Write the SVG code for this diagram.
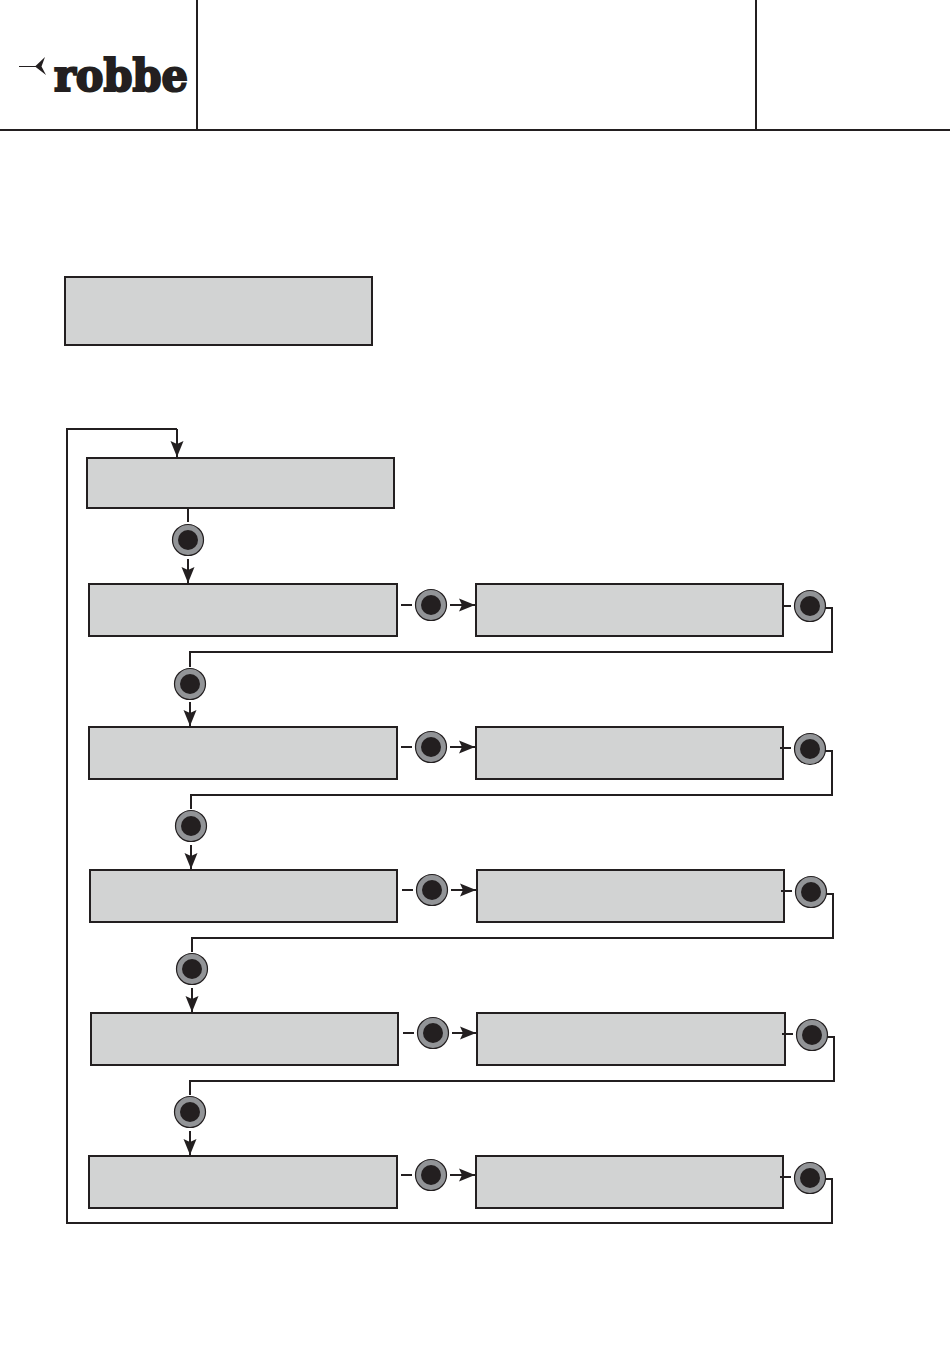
<svg xmlns="http://www.w3.org/2000/svg" width="950" height="1348" viewBox="0 0 950 1348">
<style>
.box{fill:#d2d3d3;stroke:#231f20;stroke-width:2}
.rule{fill:none;stroke:#231f20;stroke-width:2}
.c{fill:none;stroke:#231f20;stroke-width:2}
.a{marker-end:url(#arrow)}
.ring{fill:#929497;stroke:#231f20;stroke-width:1.2}
.dot{fill:#231f20}
.logo{font-family:"DejaVu Serif","Liberation Serif",serif;font-weight:700;font-size:44px;fill:#231f20;stroke:#231f20;stroke-width:2.2;stroke-linejoin:miter}
</style>
<defs>
<marker id="arrow" markerUnits="userSpaceOnUse" markerWidth="17" markerHeight="16" refX="16" refY="8" orient="auto">
<path d="M0 1.500 L16 8 L0 14.500 L3 8 Z" fill="#231f20"/>
</marker>
<g id="btn"><circle class="ring" r="15.500"/><circle class="dot" r="10"/></g>
</defs>
<g id="header">
<path class="rule" d="M0 130H950M197 0V130M756 0V130"/>
</g>
<g id="logo">
<path d="M19 66.500H37" stroke="#231f20" stroke-width="1" fill="none"/>
<path d="M45 57 L35 66.500 L46 75 L41.500 66.500 Z" fill="#231f20"/>
<text class="logo" x="54" y="90.500" textLength="134" lengthAdjust="spacingAndGlyphs">robbe</text>
</g>
<g id="n-top"><rect class="box" x="65" y="277" width="307" height="68"/></g>
<g id="n-start"><rect class="box" x="87" y="458" width="307" height="50"/></g>
<g id="n-r1l"><rect class="box" x="89" y="584" width="308" height="52"/></g>
<g id="n-r1r"><rect class="box" x="476" y="584" width="307" height="52"/></g>
<g id="n-r2l"><rect class="box" x="89" y="727" width="308" height="52"/></g>
<g id="n-r2r"><rect class="box" x="476" y="727" width="307" height="52"/></g>
<g id="n-r3l"><rect class="box" x="90" y="870" width="307" height="52"/></g>
<g id="n-r3r"><rect class="box" x="477" y="870" width="307" height="52"/></g>
<g id="n-r4l"><rect class="box" x="91" y="1013" width="307" height="52"/></g>
<g id="n-r4r"><rect class="box" x="477" y="1013" width="308" height="52"/></g>
<g id="n-r5l"><rect class="box" x="89" y="1156" width="308" height="52"/></g>
<g id="n-r5r"><rect class="box" x="476" y="1156" width="307" height="52"/></g>
<g id="connectors">
<path class="c a" d="M177 429V457"/>
<path class="c" d="M188 509V522"/>
<path class="c a" d="M188 559V583"/>
<path class="c a" d="M190 702V726"/>
<path class="c a" d="M191 845V869"/>
<path class="c a" d="M192 988V1012"/>
<path class="c a" d="M190 1131V1155"/>
<path class="c" d="M401 605H412"/><path class="c a" d="M450 605H475"/>
<path class="c" d="M401 747H412"/><path class="c a" d="M450 747H475"/>
<path class="c" d="M402 890H413"/><path class="c a" d="M451 890H476"/>
<path class="c" d="M403 1033H414"/><path class="c a" d="M452 1033H476"/>
<path class="c" d="M401 1175H412"/><path class="c a" d="M450 1175H475"/>
<path class="c" d="M784 606H791"/>
<path class="c" d="M780 748H791"/>
<path class="c" d="M781 891H792"/>
<path class="c" d="M782 1034H793"/>
<path class="c" d="M780 1177H791"/>
<path class="c" d="M822 608H832V652H190V667"/>
<path class="c" d="M822 751H832V795H191V809"/>
<path class="c" d="M823 894H833V938H192V952"/>
<path class="c" d="M824 1037H834V1081H190V1095"/>
<path class="c" d="M822 1179H832V1223H67V429H177"/>
</g>
<g id="b-v0"><use href="#btn" x="188" y="540"/></g>
<g id="b-v1"><use href="#btn" x="190" y="684"/></g>
<g id="b-v2"><use href="#btn" x="191" y="826"/></g>
<g id="b-v3"><use href="#btn" x="192" y="969"/></g>
<g id="b-v4"><use href="#btn" x="190" y="1112"/></g>
<g id="b-m1"><use href="#btn" x="431" y="605"/></g>
<g id="b-m2"><use href="#btn" x="431" y="747"/></g>
<g id="b-m3"><use href="#btn" x="432" y="890"/></g>
<g id="b-m4"><use href="#btn" x="433" y="1033"/></g>
<g id="b-m5"><use href="#btn" x="431" y="1175"/></g>
<g id="b-r1"><use href="#btn" x="810" y="606"/></g>
<g id="b-r2"><use href="#btn" x="810" y="749"/></g>
<g id="b-r3"><use href="#btn" x="811" y="892"/></g>
<g id="b-r4"><use href="#btn" x="812" y="1035"/></g>
<g id="b-r5"><use href="#btn" x="810" y="1178"/></g>
</svg>
